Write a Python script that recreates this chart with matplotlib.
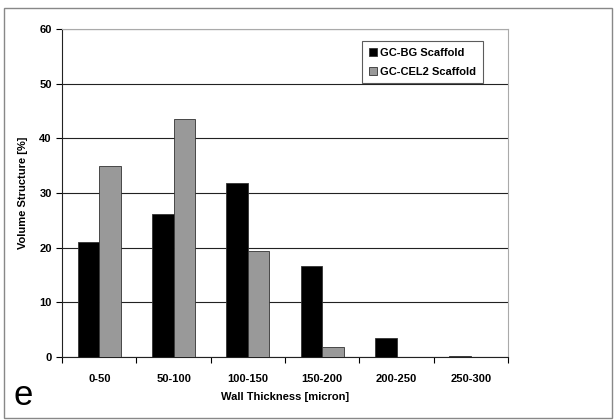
import numpy as np
import matplotlib.pyplot as plt
from matplotlib.patches import Rectangle

# datos
categorias = ['0-50', '50-100', '100-150', '150-200', '200-250', '250-300']
gc_bg = [21.1, 26.2, 31.8, 16.7, 3.4, 0.2]
gc_cel2 = [35.0, 43.5, 19.3, 1.8, 0.0, 0.0]

plt.rcParams['font.family'] = ['Liberation Sans', 'DejaVu Sans']

fig = plt.figure(figsize=(6.15, 4.2), dpi=100)
ax = fig.add_axes([0.101, 0.15, 0.725, 0.781])

x = np.arange(len(categorias))
w = 0.29
ax.bar(x - w / 2, gc_bg, w, color='black', edgecolor='#333333', linewidth=0.6,
       label='GC-BG Scaffold', zorder=3)
ax.bar(x + w / 2, gc_cel2, w, color='#999999', edgecolor='#333333', linewidth=0.6,
       label='GC-CEL2 Scaffold', zorder=3)

ax.set_xlim(-0.5, len(categorias) - 0.5)
ax.set_ylim(0, 60)
ax.set_yticks(range(0, 61, 10))
ax.set_xticks(x)
ax.set_xticklabels(categorias)
ax.set_xticks(np.arange(-0.5, len(categorias)), minor=True)
ax.tick_params(axis='x', which='major', length=0, pad=12, labelsize=8)
ax.tick_params(axis='x', which='minor', length=4, direction='out', width=0.8)
ax.tick_params(axis='y', length=4, direction='out', width=0.8, labelsize=8)
for lab in ax.get_xticklabels() + ax.get_yticklabels():
    lab.set_fontweight('bold')

ax.grid(axis='y', color='#222222', linewidth=0.8, zorder=0)
for s in ['top', 'right']:
    ax.spines[s].set_color('#aaaaaa')
for s in ['left', 'bottom']:
    ax.spines[s].set_color('#222222')

ax.set_ylabel('Volume Structure [%]', fontsize=8, fontweight='bold', labelpad=8)
ax.set_xlabel('Wall Thickness [micron]', fontsize=8, fontweight='bold', labelpad=6)

leg = ax.legend(loc='upper left', bbox_to_anchor=(0.661, 0.98), fontsize=8,
                frameon=True, fancybox=False, handlelength=0.7, handleheight=0.7,
                handletextpad=0.3, borderpad=0.6, labelspacing=0.8)
leg.get_frame().set_edgecolor('#333333')
leg.get_frame().set_linewidth(0.8)
for t in leg.get_texts():
    t.set_fontweight('bold')

# marco exterior y letra del panel
fig.patches.append(Rectangle((0.007, 0.005), 0.988, 0.975, transform=fig.transFigure,
                             fill=False, edgecolor='#888888', linewidth=1.0))
fig.text(0.022, 0.035, 'e', fontsize=25)

fig.savefig('out.png', dpi=100)
